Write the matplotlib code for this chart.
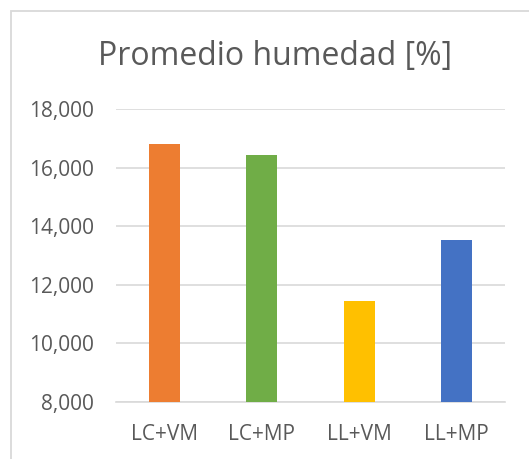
import matplotlib.pyplot as plt
from matplotlib.patches import Rectangle
from matplotlib.ticker import FuncFormatter

# data
categories = ['LC+VM', 'LC+MP', 'LL+VM', 'LL+MP']
humedad = [16.81, 16.44, 11.45, 13.54]
colors = ['#ED7D31', '#70AD47', '#FFC000', '#4472C4']

plt.rcParams['font.family'] = ['Open Sans', 'DejaVu Sans']
text_color = '#595959'

fig = plt.figure(figsize=(5.29, 4.59), dpi=100)
ax = fig.add_axes([116 / 529, 1 - 402 / 459, 389 / 529, (402 - 109.3) / 459])

# chart frame (cut off on right and bottom like the screenshot)
fig.patches.append(Rectangle((11 / 529, -0.1), 1.2, 1.1 - 11 / 459,
                             transform=fig.transFigure, fill=False,
                             edgecolor='#D9D9D9', linewidth=1.3))

ax.bar(range(len(categories)), humedad, width=0.32, color=colors, zorder=3)

ax.set_xlim(-0.5, len(categories) - 0.5)
ax.set_ylim(8, 18)
ax.set_yticks([8, 10, 12, 14, 16, 18])
ax.yaxis.set_major_formatter(FuncFormatter(lambda v, p: f'{v:.3f}'.replace('.', ',')))
ax.set_xticks(range(len(categories)))
ax.set_xticklabels(categories)

ax.grid(axis='y', color='#D9D9D9', linewidth=1.2, zorder=0)
for s in ['top', 'right', 'left']:
    ax.spines[s].set_visible(False)
ax.spines['bottom'].set_color('#D9D9D9')
ax.spines['bottom'].set_linewidth(1.2)

ax.tick_params(axis='y', length=0, pad=16, labelsize=15, labelcolor=text_color)
ax.tick_params(axis='x', length=0, pad=16, labelsize=15, labelcolor=text_color)

fig.text(275 / 529, 1 - 57 / 459, 'Promedio humedad [%]', ha='center', va='center',
         fontsize=23, color=text_color)

fig.savefig('out.png', dpi=100)
